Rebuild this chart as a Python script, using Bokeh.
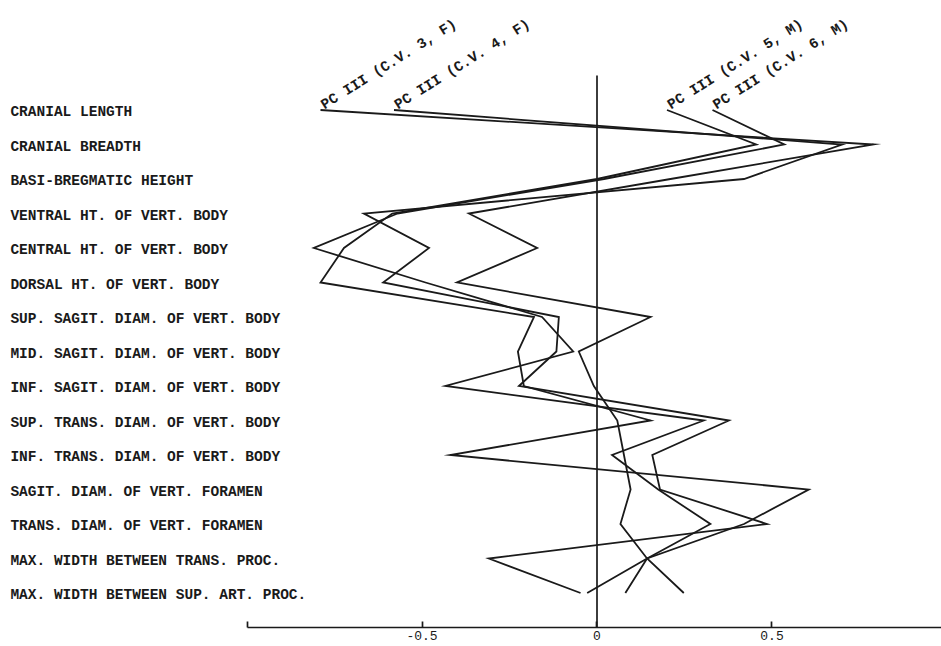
import numpy as np
from bokeh.plotting import figure
from bokeh.models import Range1d, FixedTicker, ColumnDataSource
from bokeh.core.properties import value
from bokeh.embed import file_html
from bokeh.resources import INLINE

# ---------------- data ----------------
categories = [
    "CRANIAL LENGTH",
    "CRANIAL BREADTH",
    "BASI-BREGMATIC HEIGHT",
    "VENTRAL HT. OF VERT. BODY",
    "CENTRAL HT. OF VERT. BODY",
    "DORSAL HT. OF VERT. BODY",
    "SUP. SAGIT. DIAM. OF VERT. BODY",
    "MID. SAGIT. DIAM. OF VERT. BODY",
    "INF. SAGIT. DIAM. OF VERT. BODY",
    "SUP. TRANS. DIAM. OF VERT. BODY",
    "INF. TRANS. DIAM. OF VERT. BODY",
    "SAGIT. DIAM. OF VERT. FORAMEN",
    "TRANS. DIAM. OF VERT. FORAMEN",
    "MAX. WIDTH BETWEEN TRANS. PROC.",
    "MAX. WIDTH BETWEEN SUP. ART. PROC.",
]

series_names = ["PC III (C.V. 3, F)", "PC III (C.V. 4, F)",
                "PC III (C.V. 5, M)", "PC III (C.V. 6, M)"]

cv3 = [-0.79, 0.79, 0.21, -0.366, -0.171, -0.40, 0.153, -0.052, -0.009,
       0.058, 0.077, 0.096, 0.067, 0.143, 0.248]
cv4 = [-0.58, 0.70, 0.42, -0.666, -0.48, -0.611, -0.109, -0.116, -0.223,
       0.377, 0.158, 0.18, 0.486, -0.309, -0.047]
cv5 = [0.20, 0.455, 0.0, -0.585, -0.723, -0.79, -0.18, -0.226, -0.209,
       0.153, -0.419, 0.605, 0.42, 0.143, 0.081]
cv6 = [0.33, 0.535, 0.02, -0.57, -0.809, -0.49, -0.157, -0.068, -0.433,
       0.305, 0.043, 0.175, 0.324, 0.143, -0.028]

tick_values = [-1.0, -0.5, 0.0, 0.5, 1.0]
tick_labels = ["", "-0.5", "0", "0.5", ""]

# ---------------- layout constants ----------------
FONT = "Liberation Mono"
INK = "#1a1a1a"
FRAME_W, FRAME_H = 941, 627
X_START, X_END = -1.7043, 0.9843
Y_TOP, Y_BOTTOM = -3.174, 15.0
LABEL_X = -1.676
ZERO_TOP = -1.0

rows = list(range(len(categories)))
series = [cv3, cv4, cv5, cv6]

p = figure(frame_width=FRAME_W, frame_height=FRAME_H,
           x_range=Range1d(X_START, X_END),
           y_range=Range1d(Y_BOTTOM, Y_TOP),
           output_backend="svg", toolbar_location=None,
           y_axis_location=None, min_border=0)
p.outline_line_color = None
p.grid.visible = False
p.background_fill_color = "white"
p.border_fill_color = "white"

# zero reference line
p.segment(x0=[0], y0=[ZERO_TOP], x1=[0], y1=[Y_BOTTOM],
          line_color=INK, line_width=1.7)

# profile lines
for vals in series:
    p.line(x=vals, y=rows, line_color=INK, line_width=1.8,
           line_join="miter")

# series labels at the start of each line
src = ColumnDataSource(dict(x=[s[0] for s in series],
                            y=[rows[0]] * len(series),
                            t=series_names))
p.text(x="x", y="y", text="t", source=src, angle=np.deg2rad(32),
       text_align="left", text_baseline="alphabetic",
       x_offset=2, y_offset=-4,
       text_font=value(FONT), text_font_size="14.5px", text_color=INK,
       text_font_style="bold")

# category labels (left aligned, as in the original)
lab = ColumnDataSource(dict(x=[LABEL_X] * len(categories), y=rows,
                            t=categories))
p.text(x="x", y="y", text="t", source=lab,
       text_align="left", text_baseline="middle", y_offset=2,
       text_font=value(FONT), text_font_size="14.5px", text_color=INK,
       text_font_style="bold")

# x axis
ax = p.xaxis[0]
ax.ticker = FixedTicker(ticks=tick_values)
ax.major_label_overrides = {v: l for v, l in zip(tick_values, tick_labels)}
ax.bounds = (-1.0, 1.0)
ax.axis_line_color = INK
ax.axis_line_width = 1.7
ax.major_tick_line_color = INK
ax.major_tick_line_width = 1.7
ax.major_tick_in = 6
ax.major_tick_out = 0
ax.minor_tick_line_color = None
ax.major_label_standoff = 3
ax.major_label_text_font = FONT
ax.major_label_text_font_size = "13px"
ax.major_label_text_color = INK

open("out.html", "w").write(file_html(p, INLINE))
